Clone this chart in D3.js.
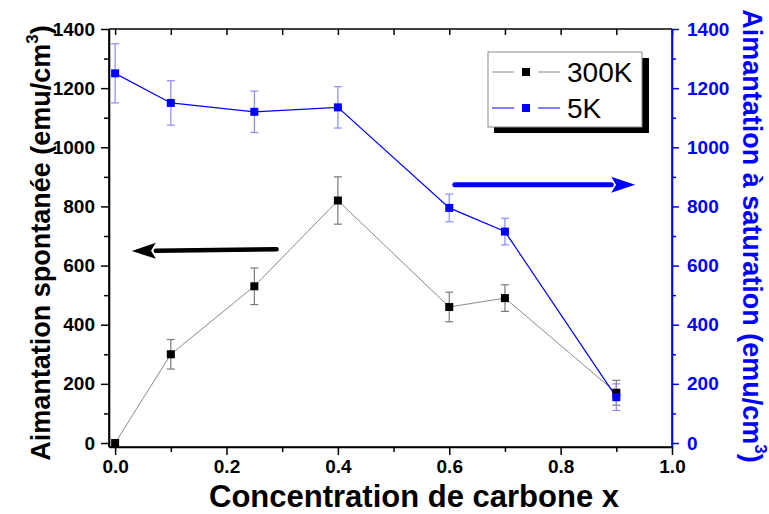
<!DOCTYPE html>
<html><head><meta charset="utf-8">
<script src="https://cdn.jsdelivr.net/npm/d3@7"></script>
<style>
html,body{margin:0;padding:0;background:#fff;}
svg{display:block;font-family:"Liberation Sans",Arial,sans-serif;}
</style></head>
<body><svg id="chart" width="769" height="514"></svg>
<script>
// ---- data ----
const xValues = [0.0, 0.1, 0.25, 0.4, 0.6, 0.7, 0.9];
const m300K = [0, 300, 530, 820, 460, 490, 170];
const err300K = [0, 50, 62, 80, 50, 45, 42];
const m5K = [1250, 1150, 1120, 1135, 795, 715, 155];
const err5K = [100, 75, 70, 70, 47, 45, 45];
const xTicks = [0.0, 0.2, 0.4, 0.6, 0.8, 1.0];
const xMinorTicks = [0.1, 0.3, 0.5, 0.7, 0.9];
const yTicks = [0, 200, 400, 600, 800, 1000, 1200, 1400];
const yMinorTicks = [100, 300, 500, 700, 900, 1100, 1300];
const seriesNames = ["300K", "5K"];
const xLabel = "Concentration de carbone x";
const yLeftLabel = "Aimantation spontanée (emu/cm";
const yRightLabel = "Aimantation à saturation (emu/cm";
// annotation arrows in data coordinates [x, y] : tail -> tip
const arrowLeft = [[0.29, 655], [0.03, 649]];
const arrowRight = [[0.61, 873], [0.934, 873]];

// ---- layout ----
const svg = d3.select("#chart");
const L = 109, R = 672, T = 29, B = 447;
const x = d3.scaleLinear().domain([-0.011, 1.0]).range([L, R]);
const y = d3.scaleLinear().domain([-13.5, 1400]).range([B, T]);
const BLUE = "#0000ff";
const fmtX = d3.format(".1f");
const fmtY = d3.format("d");

// axes
const gBottom = svg.append("g").attr("transform", `translate(0,${B})`);
gBottom.call(d3.axisBottom(x).tickValues(xTicks).tickFormat(fmtX).tickSize(8).tickSizeOuter(0).tickPadding(5));
gBottom.append("g").call(d3.axisBottom(x).tickValues(xMinorTicks).tickFormat("").tickSize(5).tickSizeOuter(0));
const gTop = svg.append("g").attr("transform", `translate(0,${T})`);
gTop.call(d3.axisTop(x).tickValues(xTicks.concat(xMinorTicks)).tickFormat("").tickSize(-6).tickSizeOuter(0));
const gLeft = svg.append("g").attr("transform", `translate(${L},0)`);
gLeft.call(d3.axisLeft(y).tickValues(yTicks).tickFormat(fmtY).tickSize(8).tickSizeOuter(0).tickPadding(6));
gLeft.append("g").call(d3.axisLeft(y).tickValues(yMinorTicks).tickFormat("").tickSize(5).tickSizeOuter(0));
const gRight = svg.append("g").attr("transform", `translate(${R},0)`);
gRight.call(d3.axisRight(y).tickValues(yTicks).tickFormat(fmtY).tickSize(7).tickSizeOuter(0).tickPadding(8));
gRight.append("g").call(d3.axisRight(y).tickValues(yMinorTicks).tickFormat("").tickSize(4).tickSizeOuter(0));

[gBottom, gTop, gLeft].forEach(g => {
  g.selectAll("path.domain").attr("stroke", "#000").attr("stroke-width", 1.6);
  g.selectAll("line").attr("stroke", "#000").attr("stroke-width", 1.5);
});
gRight.selectAll("path.domain").attr("stroke", BLUE).attr("stroke-width", 1.6);
gRight.selectAll("line").attr("stroke", BLUE).attr("stroke-width", 1.5);
svg.selectAll(".tick text").attr("font-size", 19).attr("font-weight", "bold")
  .attr("font-family", "'Liberation Sans',Arial,sans-serif");
gBottom.selectAll(".tick text").attr("fill", "#000");
gLeft.selectAll(".tick text").attr("fill", "#000");
gRight.selectAll(".tick text").attr("fill", BLUE);
// full domain lines (including the y range below 0)
gLeft.select("path.domain").attr("d", `M0,${B}V${T}`);
gRight.select("path.domain").attr("d", `M0,${B}V${T}`);
gBottom.select("path.domain").attr("d", `M${L},0H${R}`);
gTop.select("path.domain").attr("d", `M${L},0H${R}`);

// axis titles
svg.append("text").attr("x", 414).attr("y", 507).attr("text-anchor", "middle")
  .attr("font-size", 31).attr("font-weight", "bold").attr("fill", "#000").text(xLabel);

const tl = svg.append("text").attr("transform", "translate(50,243) rotate(-90)")
  .attr("text-anchor", "middle").attr("font-size", 27).attr("font-weight", "bold").attr("fill", "#000");
tl.append("tspan").text(yLeftLabel);
tl.append("tspan").attr("font-size", 17).attr("dy", -12).text("3");
tl.append("tspan").attr("dy", 12).text(")");

const tr = svg.append("text").attr("transform", "translate(743,236) rotate(90)")
  .attr("text-anchor", "middle").attr("font-size", 27).attr("font-weight", "bold").attr("fill", BLUE);
tr.append("tspan").text(yRightLabel);
tr.append("tspan").attr("font-size", 17).attr("dy", -12).text("3");
tr.append("tspan").attr("dy", 12).text(")");

// series
const d300 = xValues.map((v, i) => ({x: v, y: m300K[i], e: err300K[i]}));
const d5 = xValues.map((v, i) => ({x: v, y: m5K[i], e: err5K[i]}));
const line = d3.line().x(d => x(d.x)).y(d => y(d.y));

function errorBars(data, color) {
  const g = svg.append("g").attr("stroke", color).attr("stroke-width", 1.2).attr("fill", "none");
  data.filter(d => d.e > 0).forEach(d => {
    const cx = x(d.x), y1 = y(d.y - d.e), y2 = y(d.y + d.e);
    g.append("line").attr("x1", cx).attr("x2", cx).attr("y1", y1).attr("y2", y2);
    g.append("line").attr("x1", cx - 4).attr("x2", cx + 4).attr("y1", y1).attr("y2", y1);
    g.append("line").attr("x1", cx - 4).attr("x2", cx + 4).attr("y1", y2).attr("y2", y2);
  });
}
errorBars(d300, "#7a7a7a");
errorBars(d5, "#8c8cf0");

svg.append("path").datum(d300).attr("d", line).attr("fill", "none").attr("stroke", "#8a8a8a").attr("stroke-width", 1);
svg.append("path").datum(d5).attr("d", line).attr("fill", "none").attr("stroke", BLUE).attr("stroke-width", 1.2);

const S = 8;
svg.append("g").selectAll("rect").data(d300).join("rect")
  .attr("x", d => x(d.x) - S / 2).attr("y", d => y(d.y) - S / 2).attr("width", S).attr("height", S).attr("fill", "#000");
svg.append("g").selectAll("rect").data(d5).join("rect")
  .attr("x", d => x(d.x) - S / 2).attr("y", d => y(d.y) - S / 2).attr("width", S).attr("height", S).attr("fill", BLUE);

// arrows
function arrow(pts, color, w, headLen, headHalf) {
  const [tx, ty] = [x(pts[0][0]), y(pts[0][1])];
  const [px, py] = [x(pts[1][0]), y(pts[1][1])];
  const ang = Math.atan2(py - ty, px - tx);
  const bx = px - headLen * Math.cos(ang), by = py - headLen * Math.sin(ang);
  svg.append("line").attr("x1", tx).attr("y1", ty).attr("x2", bx).attr("y2", by)
    .attr("stroke", color).attr("stroke-width", w).attr("stroke-linecap", "round");
  const nx = -Math.sin(ang), ny = Math.cos(ang);
  const mx = px - headLen * 0.8 * Math.cos(ang), my = py - headLen * 0.8 * Math.sin(ang);
  svg.append("path").attr("d",
    `M${px},${py} L${bx + nx * headHalf},${by + ny * headHalf} L${mx},${my} L${bx - nx * headHalf},${by - ny * headHalf} Z`)
    .attr("fill", color);
}
arrow(arrowLeft, "#000", 4.5, 24, 8);
arrow(arrowRight, BLUE, 5, 24, 8);

// legend
const lg = svg.append("g");
lg.append("rect").attr("x", 494).attr("y", 58).attr("width", 155).attr("height", 75).attr("fill", "#000");
lg.append("rect").attr("x", 488).attr("y", 52).attr("width", 154).attr("height", 75)
  .attr("fill", "#fff").attr("stroke", "#8a8a8a").attr("stroke-width", 1);
const legendRows = [
  {name: seriesNames[0], line: "#8a8a8a", mark: "#000", cy: 72},
  {name: seriesNames[1], line: BLUE, mark: BLUE, cy: 108}
];
legendRows.forEach(r => {
  lg.append("line").attr("x1", 492).attr("x2", 514).attr("y1", r.cy).attr("y2", r.cy).attr("stroke", r.line).attr("stroke-width", 1);
  lg.append("line").attr("x1", 538).attr("x2", 560).attr("y1", r.cy).attr("y2", r.cy).attr("stroke", r.line).attr("stroke-width", 1);
  lg.append("rect").attr("x", 526 - 4).attr("y", r.cy - 4).attr("width", 8).attr("height", 8).attr("fill", r.mark);
  lg.append("text").attr("x", 567).attr("y", r.cy + 10).attr("font-size", 28).attr("fill", "#000").text(r.name);
});
</script></body></html>
